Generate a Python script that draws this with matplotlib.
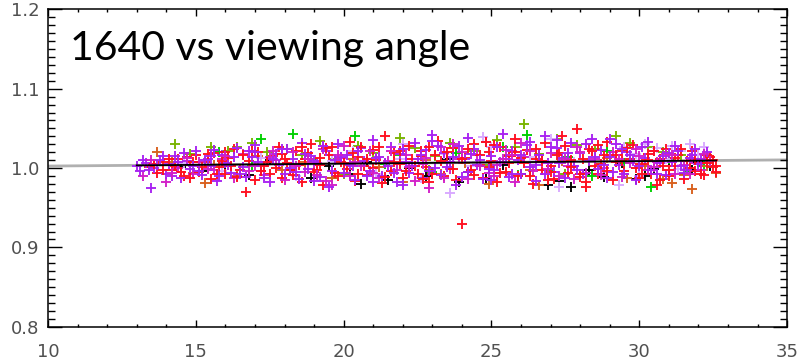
import numpy as np
import matplotlib
matplotlib.use('Agg')
import matplotlib.pyplot as plt
from matplotlib.ticker import MultipleLocator

# points, (viewing angle, ratio) per colour
red_pts=[(13.4,1.001),(13.7,0.994),(13.9,1.008),(14.2,0.998),(14.4,1.012),(14.6,0.990),(14.8,1.004),(15.0,1.016),
(15.1,0.995),(15.3,1.007),(15.5,0.986),(15.6,1.019),(15.8,1.001),(16.0,0.992),(16.1,1.013),(16.3,1.024),(16.5,0.997),
(16.7,0.970),(16.8,1.009),(17.0,0.985),(17.1,1.020),(17.3,1.003),(17.5,0.993),(17.6,1.015),(17.8,1.027),(17.9,0.988),
(18.1,1.006),(18.2,0.998),(18.4,1.022),(18.6,0.983),(18.7,1.011),(18.9,1.030),(19.0,0.995),(19.2,1.004),(19.3,0.979),
(19.5,1.017),(19.6,1.026),(19.8,0.990),(19.9,1.008),(20.1,0.999),(20.2,1.033),(20.4,0.984),(20.5,1.014),(20.7,1.002),
(20.8,0.991),(21.0,1.023),(21.1,1.010),(21.3,0.981),(21.4,1.041),(21.6,0.996),(21.7,1.019),(21.9,1.005),(22.0,0.987),
(22.2,1.028),(22.3,1.012),(22.5,0.993),(22.6,1.021),(22.8,1.001),(22.9,0.982),(23.1,1.016),(23.2,1.034),(23.4,0.990),
(23.5,1.007),(23.7,1.025),(23.8,0.985),(24.0,0.929),(24.1,1.013),(24.3,0.997),(24.4,1.030),(24.6,1.004),(24.7,0.988),
(24.9,1.020),(25.0,1.009),(25.2,0.983),(25.3,1.027),(25.5,0.995),(25.6,1.015),(25.8,1.036),(25.9,0.990),(26.1,1.006),
(26.2,1.023),(26.4,0.980),(26.5,1.012),(26.7,0.998),(26.8,1.031),(27.0,1.003),(27.1,0.986),(27.3,1.019),(27.4,1.040),
(27.6,0.994),(27.7,1.010),(27.9,1.049),(28.0,0.989),(28.2,0.976),(28.2,0.982),(28.3,1.024),(28.5,1.002),(28.6,0.992),
(28.8,1.016),(28.9,1.033),(29.1,0.985),(29.2,1.008),(29.4,1.021),(29.5,0.996),(29.7,1.012),(29.8,1.029),(30.0,0.988),
(30.1,1.005),(30.3,1.018),(30.4,0.993),(30.6,0.979),(30.7,1.011),(30.9,1.024),(31.0,0.990),(31.2,1.003),(31.3,1.016),
(31.5,0.986),(31.6,1.009),(31.8,1.021),(31.9,0.996),(32.1,1.006),(32.2,0.991),(32.4,1.014),(32.5,1.001),(32.6,0.995),
(32.3,1.017)]

red_more=[(13.6,1.005),(13.9,0.997),(14.1,1.011),(14.3,1.003),(14.5,0.995),(14.7,1.014),(14.9,1.008),(15.2,1.001),
(15.4,1.018),(15.7,0.993),(15.9,1.009),(16.2,1.002),(16.4,0.989),(16.6,1.016),(16.9,1.022),(17.2,0.996),(17.4,1.008),
(17.7,1.000),(17.9,1.018),(18.0,1.012),(18.3,0.991),(18.5,1.004),(18.8,1.019),(19.1,0.998),(19.2,1.013),(19.4,1.025),
(19.7,0.994),(20.0,1.006),(20.3,1.019),(20.5,0.992),(20.8,1.011),(21.0,1.000),(21.2,1.027),(21.4,0.989),(21.7,1.008),
(21.9,1.021),(22.1,0.996),(22.4,1.003),(22.6,1.015),(22.9,1.026),(23.0,0.993),(23.3,1.009),(23.5,1.020),(23.7,0.999),
(24.0,1.012),(24.2,1.024),(24.4,0.991),(24.6,1.017),(24.9,1.001),(25.1,1.029),(25.3,0.994),(25.6,1.006),(25.8,1.020),
(26.0,1.013),(26.3,0.990),(26.5,1.024),(26.7,1.009),(27.0,0.995),(27.2,1.016),(27.5,1.028),(27.7,1.001),(28.0,0.993),
(28.1,1.012),(28.4,1.021),(28.7,1.005),(28.9,0.996),(29.2,1.017),(29.4,1.009),(29.6,1.025),(29.9,1.000),(30.1,0.992),
(30.3,1.010),(30.5,1.022),(30.8,1.003),(31.0,0.997),(31.2,1.013),(31.4,1.024),(31.7,1.000),(31.9,1.010),(32.1,0.993),
(32.3,1.006),(32.5,1.010),(32.6,1.002),(20.6,1.027),(22.7,0.986),(24.8,1.033),(26.9,0.985),(28.6,1.029),(30.7,0.985),
(18.6,1.026),(16.0,1.020),(14.8,0.988)]

purple_pts=[(13.0,1.002),(13.1,0.996),(13.3,1.006),(13.5,0.975),(13.6,1.000),(13.8,1.010),(14.0,0.993),(14.1,1.005),
(14.3,1.015),(14.5,0.987),(14.7,1.009),(14.8,0.999),(15.0,1.021),(15.2,0.991),(15.4,1.012),(15.5,1.003),(15.7,0.984),
(15.9,1.017),(16.0,1.006),(16.2,0.994),(16.4,1.025),(16.6,1.001),(16.7,0.989),(16.9,1.014),(17.0,1.029),(17.2,0.996),
(17.4,1.008),(17.5,0.982),(17.7,1.018),(17.8,1.004),(18.0,0.993),(18.1,1.024),(18.3,1.011),(18.5,0.986),(18.6,1.032),
(18.8,0.999),(18.9,1.015),(19.1,1.006),(19.2,0.989),(19.4,1.021),(19.5,0.976),(19.7,1.010),(19.8,1.030),(20.0,0.994),
(20.1,1.017),(20.3,1.003),(20.4,0.985),(20.6,1.025),(20.7,1.009),(20.9,0.996),(21.0,1.035),(21.2,1.014),(21.3,0.990),
(21.5,1.002),(21.6,1.027),(21.8,0.983),(21.9,1.018),(22.1,1.007),(22.2,0.994),(22.4,1.031),(22.5,1.011),(22.7,0.987),
(22.8,1.023),(23.0,1.042),(23.1,1.000),(23.3,0.991),(23.4,1.019),(23.6,1.008),(23.8,0.978),(23.9,1.028),(24.1,1.012),
(24.2,0.995),(24.4,1.024),(24.5,1.004),(24.7,0.986),(24.8,1.033),(25.0,1.015),(25.1,0.998),(25.3,1.007),(25.4,1.043),
(25.6,0.989),(25.7,1.021),(25.9,1.010),(26.0,0.993),(26.2,1.029),(26.3,1.001),(26.5,0.984),(26.6,1.017),(26.8,1.040),
(26.9,1.006),(27.1,0.995),(27.2,1.025),(27.4,1.013),(27.5,0.987),(27.7,1.032),(27.8,1.003),(28.0,1.019),(28.1,0.992),
(28.3,1.009),(28.4,1.037),(28.6,0.999),(28.7,1.023),(28.9,0.988),(29.0,1.014),(29.2,1.030),(29.3,1.004),(29.5,0.993),
(29.6,1.020),(29.8,1.009),(29.9,0.985),(30.1,1.026),(30.2,1.013),(30.4,0.998),(30.5,1.021),(30.7,1.006),(30.9,0.991),
(31.0,1.019),(31.2,1.028),(31.4,1.002),(31.5,0.994),(31.7,1.013),(31.9,1.024),(32.0,1.005)]

purple_more=[(13.2,1.010),(13.4,0.998),(13.7,1.004),(13.9,1.015),(14.2,0.990),(14.4,1.007),(14.6,1.019),(14.9,1.002),
(15.1,0.996),(15.3,1.010),(15.6,1.023),(15.8,0.990),(16.1,1.004),(16.3,1.014),(16.5,0.993),(16.8,1.021),(17.1,1.007),
(17.3,0.988),(17.6,1.012),(17.9,1.024),(18.2,1.000),(18.4,0.995),(18.7,1.018),(19.0,1.009),(19.3,1.028),(19.6,0.996),
(19.9,1.014),(20.2,1.004),(20.5,1.022),(20.8,0.990),(21.1,1.013),(21.4,1.006),(21.7,0.994),(22.0,1.024),(22.3,1.002),
(22.6,1.016),(22.9,0.996),(23.2,1.028),(23.5,1.001),(23.7,1.014),(24.0,0.989),(24.3,1.018),(24.6,1.010),(24.9,0.999),
(25.2,1.026),(25.5,1.012),(25.7,0.993),(26.0,1.017),(26.3,1.033),(26.5,1.004),(26.8,0.992),(27.0,1.026),(27.3,1.006),
(27.6,1.019),(27.9,0.997),(28.2,1.030),(28.5,1.014),(28.8,1.004),(29.1,0.995),(29.4,1.024),(29.7,1.016),(30.0,1.002),
(30.3,1.033),(30.6,0.993),(30.8,1.015),(31.1,1.007),(31.3,1.022),(31.6,0.998),(31.8,1.017),(32.1,1.011),(32.3,1.020),
(21.0,0.982),(23.0,1.034),(25.0,0.985),(27.2,1.035),(29.0,1.036),(19.0,0.984),(17.0,1.020),(15.5,1.015),(24.2,1.038),
(22.0,0.978)]

magenta_pts=[(13.2,0.990),(13.6,1.004),(14.0,0.983),(14.4,1.000),(14.9,0.992),(15.1,1.007),(15.6,0.997),(15.9,1.011),
(16.3,0.988),(16.6,1.018),(17.0,1.002),(17.3,0.991),(17.7,1.010),(18.0,0.985),(18.3,1.020),(18.7,0.995),(19.0,1.006),
(19.4,0.984),(19.6,0.979),(19.9,1.013),(20.2,0.990),(20.6,1.002),(20.9,1.022),(21.2,0.987),(21.5,1.009),(21.8,0.997),
(22.1,1.017),(22.4,0.984),(22.7,1.005),(23.0,0.993),(23.3,1.026),(23.6,0.999),(23.9,1.011),(24.2,0.986),(24.5,1.016),
(24.9,0.994),(25.2,1.004),(25.5,1.023),(25.8,0.983),(26.1,1.014),(26.4,0.996),(26.7,1.007),(27.0,1.019),(27.3,0.990),
(27.6,1.002),(27.9,1.027),(28.2,0.994),(28.5,1.011),(28.8,1.000),(29.1,1.020),(29.4,0.989),(29.7,1.006),(30.0,1.015),
(30.3,0.997),(30.6,1.008),(30.9,1.018),(31.2,0.993),(31.5,1.004),(31.8,1.012),(32.1,0.998),(32.4,1.009),(26.0,1.031),
(22.9,0.975),(19.3,1.024),(17.5,1.014)]

magenta_more=[(13.5,1.010),(14.2,0.994),(14.7,1.013),(15.4,0.999),(16.0,1.015),(16.8,0.996),(17.6,1.022),(18.4,1.003),
(19.1,0.991),(19.8,1.017),(20.4,1.008),(21.0,0.994),(21.6,1.021),(22.2,1.001),(22.8,1.013),(23.4,0.988),(24.0,1.020),
(24.6,1.002),(25.1,0.990),(25.7,1.017),(26.3,1.022),(26.9,0.999),(27.5,1.012),(28.0,1.020),(28.7,0.991),(29.3,1.011),
(29.9,1.024),(30.5,1.001),(31.1,1.016),(31.7,0.992),(32.2,1.018),(20.0,1.028),(23.7,1.030),(27.8,0.986),(18.8,1.011),
(25.4,1.011)]

violet_pts=[(14.6,1.006),(15.9,0.996),(17.2,1.013),(18.4,0.990),(19.6,1.009),(20.3,1.021),(21.1,0.993),(21.9,1.012),
(22.6,0.988),(23.4,1.018),(23.6,0.969),(24.3,1.002),(25.0,1.027),(25.7,0.991),(26.3,1.014),(27.0,1.036),(27.3,0.976),
(27.8,1.008),(28.4,1.022),(28.9,0.995),(29.3,0.978),(29.5,1.027),(29.9,1.018),(30.2,1.030),(30.6,1.025),(30.9,1.012),
(31.1,1.028),(31.4,1.022),(31.7,1.030),(32.0,1.017),(32.2,1.026),(31.3,0.999),(30.0,0.990),(24.7,1.039),(22.0,1.030)]

olive_pts=[(14.3,1.030),(14.8,1.018),(15.5,1.026),(16.1,1.022),(16.4,1.027),(16.9,1.031),(17.4,1.020),(18.1,1.024),
(18.6,1.016),(19.2,1.034),(19.7,1.012),(20.5,1.028),(21.0,1.019),(21.9,1.038),(22.4,1.025),(23.1,1.015),(23.6,1.031),
(24.4,1.022),(25.2,1.035),(25.8,1.027),(26.1,1.055),(26.6,1.018),(27.2,1.036),(27.9,1.029),(28.5,1.024),(29.2,1.040),
(29.7,1.031),(30.3,1.026),(30.8,1.020),(31.4,1.017),(20.0,0.992),(22.9,0.998),(27.5,0.993),(24.9,1.004)]

green_pts=[(15.8,1.020),(17.2,1.036),(18.3,1.043),(18.9,1.012),(20.4,1.040),(21.4,1.005),(23.0,0.995),(23.8,1.019),
(24.6,1.003),(25.4,1.026),(26.2,1.042),(26.9,0.998),(27.6,1.014),(28.4,0.990),(28.9,1.022),(29.5,1.006),(30.4,0.976),
(31.0,1.011),(31.7,0.996),(19.6,0.988),(21.9,1.017),(25.9,0.991),(32.2,1.003),(16.9,1.002)]

orange_pts=[(13.7,1.020),(14.2,1.008),(14.9,0.994),(15.6,1.004),(16.4,0.990),(17.1,1.015),(17.9,0.998),(18.7,1.007),
(19.6,0.987),(20.3,1.012),(21.2,1.001),(22.0,0.983),(22.8,1.010),(23.3,0.992),(24.1,1.006),(24.9,0.980),(25.6,1.016),
(26.3,0.997),(26.6,0.978),(27.4,1.009),(28.1,0.993),(28.9,1.013),(29.6,0.988),(30.2,1.003),(30.8,0.986),(31.1,0.981),
(31.5,0.991),(31.8,0.973),(32.3,1.002),(32.6,0.994),(15.3,0.981)]

black_pts=[(14.5,1.001),(15.2,0.996),(16.0,1.005),(16.8,0.991),(17.5,1.010),(18.2,0.998),(18.9,0.988),(19.5,1.003),
(20.2,0.993),(20.8,1.008),(21.5,0.985),(22.2,1.000),(22.8,0.990),(23.5,1.012),(24.2,0.995),(24.8,0.986),(25.4,1.004),
(26.0,0.992),(26.7,1.009),(27.3,0.984),(27.7,0.976),(28.3,0.997),(28.8,0.989),(29.4,1.006),(29.9,0.986),(30.5,0.999),
(31.0,1.010),(31.5,0.992),(32.0,1.008),(32.4,1.003),(30.2,0.990),(31.8,0.997),(20.6,0.980),(23.9,0.983),(26.9,0.979)]

# linear fit drawn over the cloud
fit_x=[10.0,35.0]
fit_y=[1.0025,1.0103]
fit_x_data=[13.0,32.6]
fit_y_data=[1.0034,1.0095]

title='1640 vs viewing angle'

fig=plt.figure(figsize=(7.99,3.61),dpi=100)
ax=fig.add_axes([0.0601,0.095,0.925,0.879])

ax.plot(fit_x,fit_y,color='#b0b0b0',lw=2,zorder=1)

# draw order: the black ones sit underneath
series=[(black_pts,'black'),(olive_pts,'#78b400'),(green_pts,'#00d000'),(orange_pts,'#d8601c'),
        (violet_pts,'#d8a8ff'),(red_pts,'#ff1020'),(magenta_pts,'#d21ec8'),(purple_pts,'#a822f2'),
        (red_more,'#ff1020'),(purple_more,'#a822f2'),(magenta_more,'#d21ec8')]
for pts,c in series:
    arr=np.array(pts)
    ax.plot(arr[:,0],arr[:,1],ls='none',marker='+',ms=7,mew=1.35,color=c,zorder=2)

ax.plot(fit_x_data,fit_y_data,color='black',lw=1.3,zorder=3)

ax.set_xlim(10,35)
ax.set_ylim(0.8,1.2)
ax.xaxis.set_major_locator(MultipleLocator(5))
ax.xaxis.set_minor_locator(MultipleLocator(1))
ax.yaxis.set_major_locator(MultipleLocator(0.1))
ax.yaxis.set_minor_locator(MultipleLocator(0.01))
ax.yaxis.set_major_formatter(plt.FuncFormatter(lambda v,p:'%.1f'%v))

ax.tick_params(which='both',direction='in',top=True,right=True,width=1,colors='black',
               labelcolor='#505050',labelsize=13)
ax.tick_params(axis='y',which='major',length=10,pad=6)
ax.tick_params(axis='y',which='minor',length=5)
ax.tick_params(axis='x',which='major',length=5,pad=12)
ax.tick_params(axis='x',which='minor',length=2.5)
for s in ax.spines.values():
    s.set_linewidth(1.1)

# end labels kept inside the box like the original
fig.canvas.draw()
ylabs=ax.get_yticklabels()
ylabs[0].set_va('bottom')
ylabs[-1].set_va('top')

ax.text(0.03,0.841,title,transform=ax.transAxes,fontsize=29.5,family='Lato',va='baseline',ha='left')

fig.savefig('out.png',dpi=100)
